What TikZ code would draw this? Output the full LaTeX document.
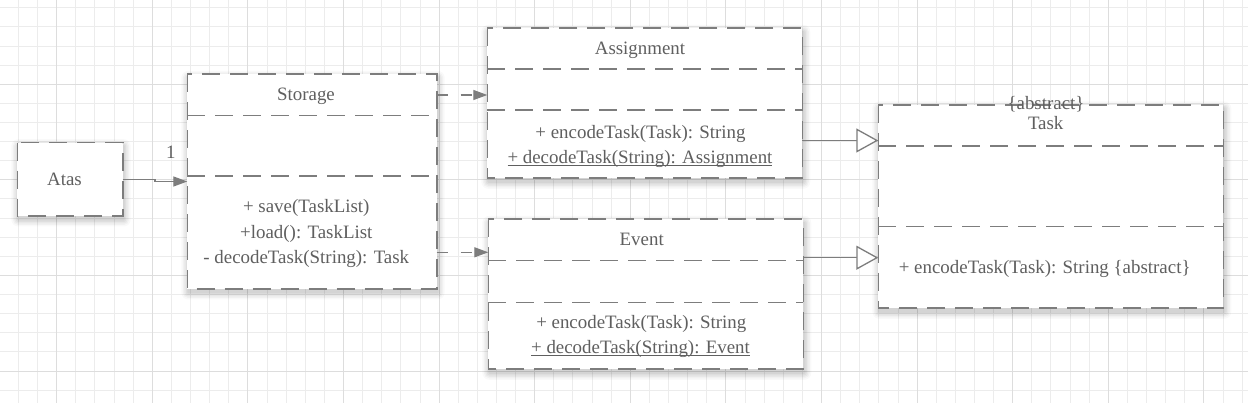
\documentclass[tikz,border=0pt]{standalone}
\usepackage{fontspec}
\setmainfont{Liberation Serif}
\usetikzlibrary{arrows.meta}
\definecolor{lc}{RGB}{125,125,125}
\definecolor{tc}{RGB}{95,95,95}
\definecolor{gminor}{RGB}{236,236,236}
\definecolor{gmajor}{RGB}{221,221,221}
\newcommand\uln[1]{\sbox0{#1}\rlap{\rule[-2.2pt]{\wd0}{0.9pt}}\usebox0}
\newcommand\boxshadow[1]{%
  \foreach \k/\o in {7/0.025,5.5/0.03,4/0.035,2.5/0.04,1/0.045}{%
    \fill[black,opacity=\o,rounded corners=\k pt]
      ([xshift=-\k pt+1pt,yshift=\k pt-3.5pt]#1.north west) rectangle
      ([xshift=\k pt+1pt,yshift=-\k pt-3.5pt]#1.south east);}}
\begin{document}
\begin{tikzpicture}[x=1pt,y=-1pt,
  classbox/.style={draw=none, rectangle, inner sep=0pt, outer sep=0pt, anchor=north west},
  boxborder/.style={draw=lc, fill=white, line width=1.6pt, dash pattern=on 18pt off 10pt},
  divider/.style={draw=lc, line width=1.6pt, dash pattern=on 18pt off 10pt},
  lbl/.style={text=tc, inner sep=0pt, anchor=base, font=\fontsize{18.9}{22}\selectfont},
  dep/.style={draw=lc, line width=1.3pt, dash pattern=on 11pt off 13pt, -{Triangle[length=14pt,width=10pt]}},
  assoc/.style={draw=lc, line width=1.3pt, -{Triangle[length=14pt,width=10pt]}},
  gen/.style={draw=lc, line width=1.3pt, -{Triangle[open,length=22pt,width=24pt,fill=white]}}]
\useasboundingbox (0,0) rectangle (1248,403);
\fill[white] (0,0) rectangle (1248,403);
% grid
\foreach \i in {0,...,64} \draw[gminor, line width=1pt] ({18.5+19.12*\i},0) -- ({18.5+19.12*\i},403);
\foreach \i in {0,...,20} \draw[gminor, line width=1pt] (0,{7.8+19.12*\i}) -- (1248,{7.8+19.12*\i});
\foreach \i in {0,...,12} \draw[gmajor, line width=1pt] ({56.7+95.6*\i},0) -- ({56.7+95.6*\i},403);
\foreach \i in {0,...,3} \draw[gmajor, line width=1pt] (0,{84.3+95.6*\i}) -- (1248,{84.3+95.6*\i});

% box frames (placement)
\node[classbox, minimum width=105.4pt, minimum height=73.3pt] (atas) at (17.3,142.7) {};
\node[classbox, minimum width=249.4pt, minimum height=214.7pt] (storage) at (187.3,74.3) {};
\node[classbox, minimum width=315pt, minimum height=150pt] (assign) at (487.3,28.3) {};
\node[classbox, minimum width=315pt, minimum height=150pt] (event) at (488.3,219.3) {};
\node[classbox, minimum width=345pt, minimum height=203.3pt] (task) at (878.3,105) {};

% shadows
\boxshadow{atas}
\boxshadow{storage}
\boxshadow{assign}
\boxshadow{event}
\boxshadow{task}

% borders
\foreach \b in {atas,storage,assign,event,task}
  \draw[boxborder] (\b.north west) rectangle (\b.south east);

% dividers
\draw[divider] (storage.west |- 0,115.7) -- (storage.east |- 0,115.7);
\draw[divider] (storage.west |- 0,176.3) -- (storage.east |- 0,176.3);
\draw[divider] (assign.west |- 0,69.3) -- (assign.east |- 0,69.3);
\draw[divider] (assign.west |- 0,110) -- (assign.east |- 0,110);
\draw[divider] (event.west |- 0,260.7) -- (event.east |- 0,260.7);
\draw[divider] (event.west |- 0,302.7) -- (event.east |- 0,302.7);
\draw[divider] (task.west |- 0,146) -- (task.east |- 0,146);
\draw[divider] (task.west |- 0,226.7) -- (task.east |- 0,226.7);

% connectors
\coordinate (j1) at (155,181.5);
\draw[assoc] (atas.east) -- (atas.east -| j1) -- (j1) -- (j1 -| storage.west);
\coordinate (d1) at (0,95);
\draw[dep] (storage.east |- d1) -- (assign.west |- d1);
\coordinate (d2) at (0,252.3);
\draw[dep] (storage.east |- d2) -- (event.west |- d2);
\coordinate (g1) at (0,140.5);
\draw[gen] (assign.east |- g1) -- (task.west |- g1);
\coordinate (g2) at (0,257.7);
\draw[gen] (event.east |- g2) -- (task.west |- g2);

% labels
\node[lbl] (mult) at (170.8,158.3) {1};
\node[lbl] (tatas) at (64.5,186) {Atas};
\node[lbl] (tstorage) at (306,100.7) {Storage};
\node[lbl] (sm1) at (306.3,212.7) {+ save(TaskList)};
\node[lbl] (sm2) at (306.3,238.3) {+load(): TaskList};
\node[lbl] (sm3) at (306.3,264) {- decodeTask(String): Task};
\node[lbl] (tassign) at (640,54.3) {Assignment};
\node[lbl] (am1) at (640.5,138.3) {+ encodeTask(Task): String};
\node[lbl] (am2) at (640,163.3) {\uln{+ decodeTask(String): Assignment}};
\node[lbl] (tevent) at (641.7,245.7) {Event};
\node[lbl] (em1) at (641.3,329) {+ encodeTask(Task): String};
\node[lbl] (em2) at (640.5,353.3) {\uln{+ decodeTask(String): Event}};
\node[lbl] (tabs) at (1046,109.3) {\{abstract\}};
\node[lbl] (ttask) at (1045.7,130) {Task};
\node[lbl] (tm1) at (1044.7,273.3) {+ encodeTask(Task): String \{abstract\}};
\end{tikzpicture}
\end{document}
